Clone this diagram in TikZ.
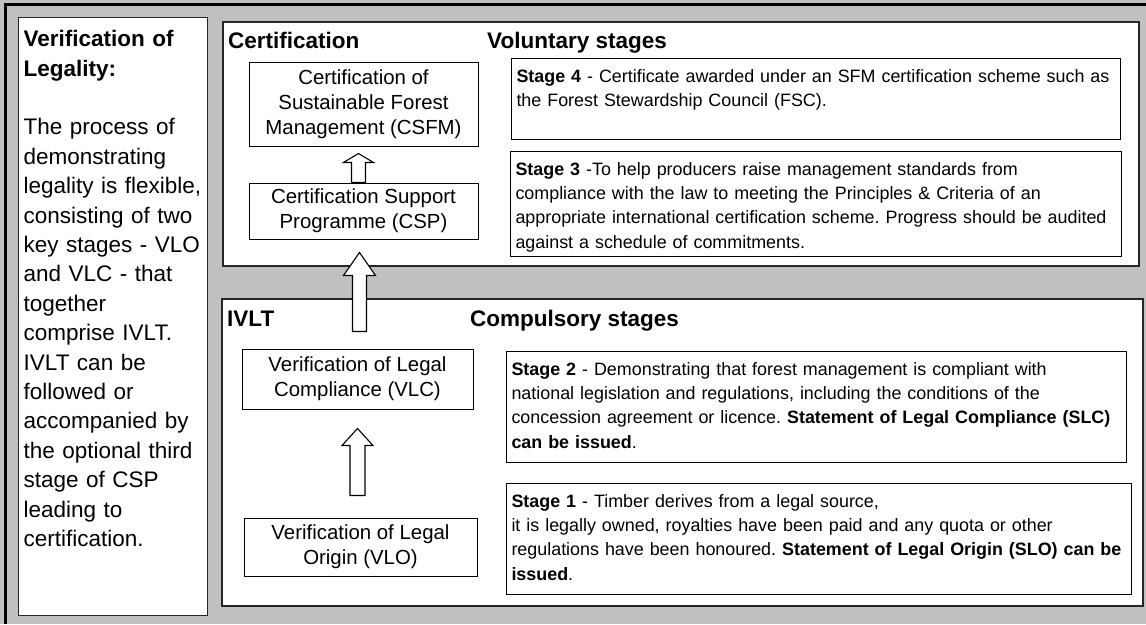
\documentclass[tikz,border=0pt]{standalone}
\usepackage{fontspec}
\setmainfont{Liberation Sans}
\usepackage{xcolor}
\usepackage{tikz}
\usetikzlibrary{calc}

\definecolor{backgray}{RGB}{192,192,192}

\tikzset{
	box/.style = {rectangle, draw = black, line width = 1pt, fill = white, align = center, inner sep = 0pt, font = \fontsize{20.4}{25}\selectfont},
	stagebox/.style = {rectangle, draw = black, line width = 1pt, fill = white, anchor = north west, align = left, inner sep = 5pt, text height = 19pt, font = \fontsize{17.9}{24.2}\selectfont, execute at begin node = {\frenchspacing\hyphenpenalty=10000\relax}},
	heading/.style = {anchor = base west, inner sep = 0pt, font = \fontsize{22.5}{27}\selectfont\bfseries},
	frame/.style = {draw = black!85, line width = 1.3pt, fill = white},
	hollow/.style = {draw = black, line width = 1.1pt, fill = white, line join = miter}
}

% tail, tip, shaft half width, head half width, head length
\newcommand{\hollowarrow}[5]{
	\draw [hollow] let \p1 = (#1), \p2 = (#2) in
	(\x1-#3, \y1) -- (\x1-#3, \y2-#5) -- (\x1-#4, \y2-#5) -- (\x1, \y2) --
	(\x1+#4, \y2-#5) -- (\x1+#3, \y2-#5) -- (\x1+#3, \y1) -- cycle;
}

\begin{document}
\begin{tikzpicture}[x = 1pt, y = -1pt]
		\useasboundingbox (0, 0) rectangle (1146, 624);
		\fill [backgray] (0, 0) rectangle (1146, 624);
		\draw [line width = 3pt] (5, 624) -- (5, 4) -- (1146, 4);
		
		\node (legality) [frame, anchor = north west, align = left, inner sep = 5pt, text width = 179pt, text height = 24pt, text depth = 564pt, font = \fontsize{22.5}{29.4}\selectfont] at (18, 17)
		{\textbf{Verification of}\\\textbf{Legality:}\\[29.4pt]
		The process of\\demonstrating\\legality is flexible,\\consisting of two\\key stages - VLO\\and VLC - that\\together\\comprise IVLT.\\IVLT can be\\followed or\\accompanied by\\the optional third\\stage of CSP\\leading to\\certification.};
		
		\draw [frame] (223, 22) rectangle (1139, 266);
		\draw [frame] (222, 299) rectangle (1143, 606);
		
		\node (certhead) [heading] at (228, 48) {Certification};
		\node (volhead) [heading] at (487, 48) {Voluntary stages};
		\node (ivlthead) [heading] at (227, 326) {IVLT};
		\node (comphead) [heading] at (470, 326) {Compulsory stages};
		
		\node (csfm) [box, minimum width = 229, minimum height = 84] at (363.5, 104) {Certification of\\Sustainable Forest\\Management (CSFM)};
		\node (csp) [box, minimum width = 229, minimum height = 56] at (363.5, 211) {Certification Support\\Programme (CSP)};
		\node (vlc) [box, minimum width = 231, minimum height = 60] at (357.5, 379) {Verification of Legal\\Compliance (VLC)};
		\node (vlo) [box, minimum width = 233, minimum height = 58] at (360.5, 547) {Verification of Legal\\Origin (VLO)};
		
		\node (stage4) [stagebox, text width = 599pt, text depth = 52pt] at (511, 58)
		{\textbf{Stage 4} - Certificate awarded under an SFM certification scheme such as\\the Forest Stewardship Council (FSC).};
		\node (stage3) [stagebox, text width = 601pt, text depth = 76pt] at (510, 151)
		{\textbf{Stage 3} -To help producers raise management standards from\\compliance with the law to meeting the Principles \& Criteria of an\\appropriate international certification scheme. Progress should be audited\\against a schedule of commitments.};
		\node (stage2) [stagebox, text width = 610pt, text depth = 82pt] at (506, 351)
		{\textbf{Stage 2} - Demonstrating that forest management is compliant with\\national legislation and regulations, including the conditions of the\\concession agreement or licence. \textbf{Statement of Legal Compliance (SLC)}\\\textbf{can be issued}.};
		\node (stage1) [stagebox, text width = 615pt, text depth = 82pt] at (506, 483)
		{\textbf{Stage 1} - Timber derives from a legal source,\\it is legally owned, royalties have been paid and any quota or other\\regulations have been honoured. \textbf{Statement of Legal Origin (SLO) can be}\\\textbf{issued}.};
		
		% arrow ends
		\coordinate (a1) at ($(csp.north) + (-5, 0)$);
		\coordinate (b1) at ($(csfm.south) + (-5, 7)$);
		\coordinate (a2) at ($(vlc.north) + (2, -17)$);
		\coordinate (b2) at ($(csp.south) + (-4, 13)$);
		\coordinate (a3) at ($(vlo.north) + (-3, -22)$);
		\coordinate (b3) at ($(vlc.south) + (0, 19)$);
		
		\hollowarrow{a1}{b1}{7pt}{15pt}{9pt}
		\hollowarrow{a2}{b2}{7pt}{16pt}{23pt}
		\hollowarrow{a3}{b3}{7.5pt}{15.5pt}{17pt}
		
\end{tikzpicture}
\end{document}
